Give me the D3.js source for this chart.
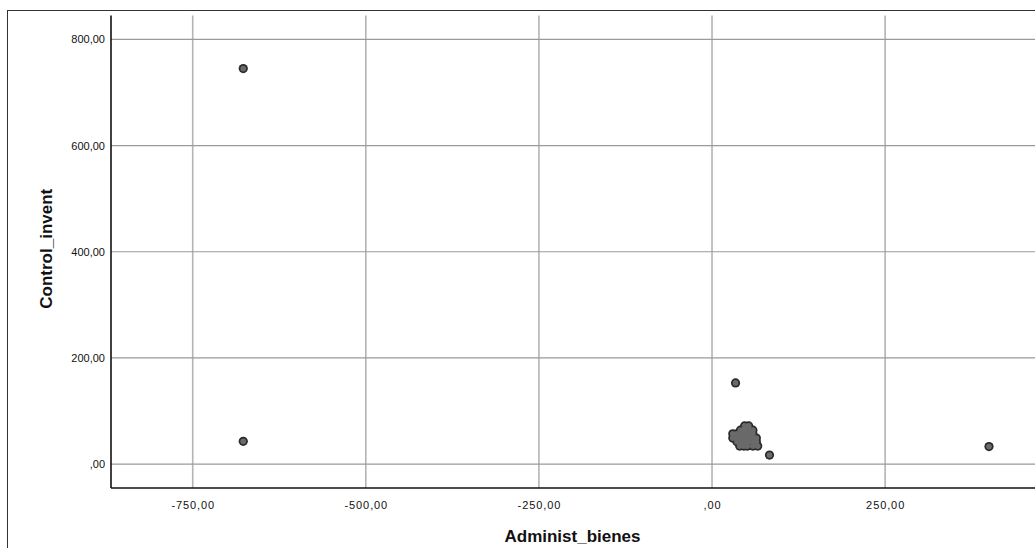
<!DOCTYPE html>
<html>
<head>
<meta charset="utf-8">
<script src="https://cdn.jsdelivr.net/npm/d3@7"></script>
<style>
  html, body { margin: 0; padding: 0; background: #fff; }
  svg { display: block; }
</style>
</head>
<body>
<svg id="chart" width="1035" height="548"></svg>
<script>
// ---- data ----
const adminBienes = [
  -677, -677, 34, 400, 83,
  47, 53,
  41, 47, 53, 59,
  30, 36, 41, 47, 53, 59,
  30, 36, 41, 47, 53, 59, 64,
  36, 41, 47, 53, 59, 64,
  40, 46, 51, 59, 66
];
const controlInvent = [
  745, 43, 153, 33, 17,
  72, 72,
  64, 64, 64, 64,
  57, 57, 57, 57, 57, 57,
  49, 49, 49, 49, 49, 49, 49,
  42, 42, 42, 42, 42, 42,
  34, 34, 34, 34, 34
];
const xTicks = [-750, -500, -250, 0, 250];
const xTickLabels = ["-750,00", "-500,00", "-250,00", ",00", "250,00"];
const yTicks = [0, 200, 400, 600, 800];
const yTickLabels = [",00", "200,00", "400,00", "600,00", "800,00"];
const xTitle = "Administ_bienes";
const yTitle = "Control_invent";

(function () {
const points = adminBienes.map((v, i) => ({x: v, y: controlInvent[i]}));

const svg = d3.select("#chart");
const pL = 111, pR = 1034, pT = 15.5, pB = 488;

const x = d3.scaleLinear().domain([-868, 465]).range([pL, pR]);
const y = d3.scaleLinear().domain([-45, 845]).range([pB, pT]);

// outer frame
svg.append("rect")
  .attr("x", 7.5).attr("y", 10.5)
  .attr("width", 1100).attr("height", 600)
  .attr("fill", "none").attr("stroke", "#333").attr("stroke-width", 1);

// grid lines
svg.append("g").selectAll("line").data(xTicks).join("line")
  .attr("x1", d => x(d)).attr("x2", d => x(d))
  .attr("y1", pT).attr("y2", pB)
  .attr("stroke", "#b4b4b4").attr("stroke-width", 1.6);

svg.append("g").selectAll("line").data(yTicks).join("line")
  .attr("x1", pL).attr("x2", 1035)
  .attr("y1", d => y(d)).attr("y2", d => y(d))
  .attr("stroke", "#9a9a9a").attr("stroke-width", 1.2);

// axes
const xAxis = d3.axisBottom(x).tickValues(xTicks)
  .tickFormat((d, i) => xTickLabels[i]).tickSize(0).tickPadding(13);
const yAxis = d3.axisLeft(y).tickValues(yTicks)
  .tickFormat((d, i) => yTickLabels[i]).tickSize(0).tickPadding(6);

const gx = svg.append("g").attr("transform", `translate(0,${pB})`).call(xAxis);
gx.select(".domain").remove();
gx.selectAll("text")
  .attr("font-family", "Liberation Sans, Arial, sans-serif")
  .attr("font-size", 11).attr("fill", "#111")
  .attr("letter-spacing", "0.9px");

const gy = svg.append("g").attr("transform", `translate(${pL},0)`).call(yAxis);
gy.select(".domain").remove();
gy.selectAll("text")
  .attr("font-family", "Liberation Sans, Arial, sans-serif")
  .attr("font-size", 11).attr("fill", "#111");

svg.append("line")
  .attr("x1", pL).attr("x2", 1035).attr("y1", pB).attr("y2", pB)
  .attr("stroke", "#111").attr("stroke-width", 1.6);
svg.append("line")
  .attr("x1", pL).attr("x2", pL).attr("y1", pT).attr("y2", pB)
  .attr("stroke", "#111").attr("stroke-width", 1.6);

// markers: dark outline layer, then gray fill layer
svg.append("g").selectAll("circle").data(points).join("circle")
  .attr("cx", d => x(d.x)).attr("cy", d => y(d.y))
  .attr("r", 4.6).attr("fill", "#2a2a2a");
svg.append("g").selectAll("circle").data(points).join("circle")
  .attr("cx", d => x(d.x)).attr("cy", d => y(d.y))
  .attr("r", 2.9).attr("fill", "#6a6a6a");

// titles
svg.append("text")
  .attr("x", 572.5).attr("y", 542)
  .attr("text-anchor", "middle")
  .attr("font-family", "Liberation Sans, Arial, sans-serif")
  .attr("font-size", 17).attr("font-weight", "bold").attr("fill", "#111")
  .text(xTitle);

svg.append("text")
  .attr("transform", `translate(52,${(pT + pB) / 2 - 3}) rotate(-90)`)
  .attr("text-anchor", "middle")
  .attr("font-family", "Liberation Sans, Arial, sans-serif")
  .attr("font-size", 17).attr("font-weight", "bold").attr("fill", "#111")
  .text(yTitle);
})();
</script>
</body>
</html>
